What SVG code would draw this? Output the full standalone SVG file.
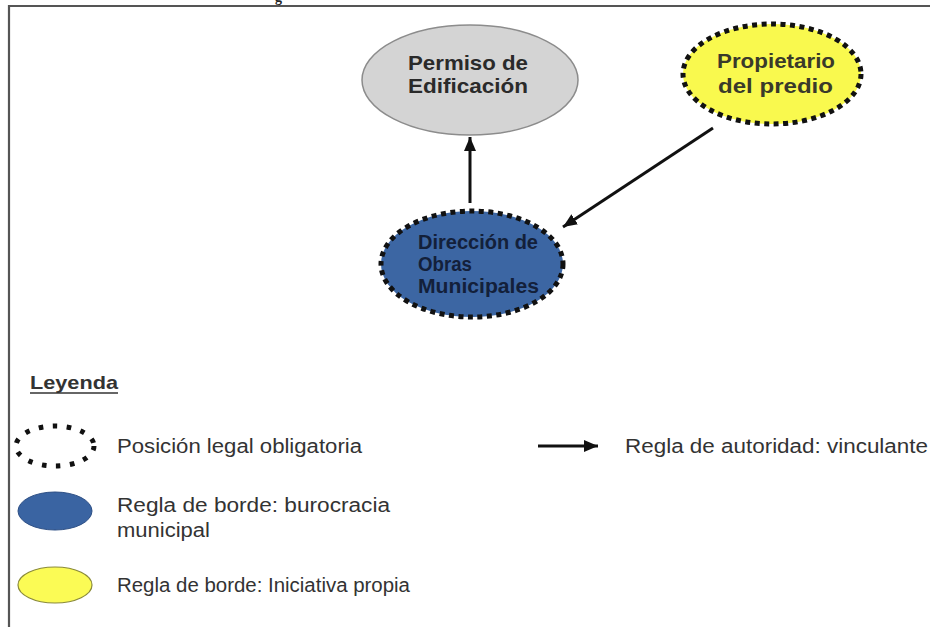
<svg xmlns="http://www.w3.org/2000/svg" width="930" height="627" viewBox="0 0 930 627">
  <style>
    .frame { stroke: #555555; stroke-width: 2.2; fill: none; }
    .node-text { font-family: "Liberation Sans", Arial, sans-serif; font-weight: bold; font-size: 21px; }
    .legend-text { font-family: "Liberation Sans", Arial, sans-serif; font-size: 20px; fill: #333333; }
    .dotted { stroke: #111111; stroke-width: 5; stroke-dasharray: 5 4.5; }
    .edge { stroke: #111111; stroke-width: 3; fill: none; }
  </style>
  <defs>
    <marker id="arrow" markerUnits="userSpaceOnUse" markerWidth="16" markerHeight="14" refX="14" refY="6" orient="auto">
      <path d="M0,0 L14,6 L0,12 z" fill="#111111"/>
    </marker>
  </defs>
  <rect x="0" y="0" width="930" height="627" fill="#ffffff"/>
  <text x="275" y="1.5" font-family="Liberation Serif, serif" font-weight="bold" font-size="14" fill="#222222">g</text>
  <path class="frame" d="M9,627 L9,6 L930,6"/>

  <g id="connectors">
    <line class="edge" x1="470" y1="203" x2="470" y2="137" marker-end="url(#arrow)"/>
    <line class="edge" x1="713" y1="128" x2="563" y2="227" marker-end="url(#arrow)"/>
  </g>

  <g id="permiso">
    <ellipse cx="470" cy="80" rx="108" ry="55" fill="#d4d4d4" stroke="#8c8c8c" stroke-width="1.5"/>
    <text class="node-text" fill="#2a2a2a" x="408" y="70" textLength="120" lengthAdjust="spacingAndGlyphs">Permiso de</text>
    <text class="node-text" fill="#2a2a2a" x="408" y="93" textLength="120" lengthAdjust="spacingAndGlyphs">Edificación</text>
  </g>

  <g id="propietario">
    <ellipse class="dotted" cx="772" cy="74" rx="89" ry="50" fill="#f9f94e"/>
    <text class="node-text" fill="#3a3a2a" x="717" y="68" textLength="118" lengthAdjust="spacingAndGlyphs">Propietario</text>
    <text class="node-text" fill="#3a3a2a" x="718" y="93" textLength="115" lengthAdjust="spacingAndGlyphs">del predio</text>
  </g>

  <g id="direccion">
    <ellipse class="dotted" cx="472" cy="264" rx="91" ry="53" fill="#3c66a3"/>
    <text class="node-text" style="font-size:19.5px" fill="#13203a" x="418" y="249" textLength="120" lengthAdjust="spacingAndGlyphs">Dirección de</text>
    <text class="node-text" style="font-size:19.5px" fill="#13203a" x="418" y="271" textLength="54" lengthAdjust="spacingAndGlyphs">Obras</text>
    <text class="node-text" style="font-size:19.5px" fill="#13203a" x="418" y="293" textLength="121" lengthAdjust="spacingAndGlyphs">Municipales</text>
  </g>

  <g id="legend">
    <text x="30" y="389" font-family="Liberation Sans, Arial, sans-serif" font-weight="bold" font-size="19" fill="#333333" textLength="88" lengthAdjust="spacingAndGlyphs">Leyenda</text>
    <line x1="30" y1="393" x2="118" y2="393" stroke="#333333" stroke-width="1.5"/>

    <ellipse cx="55" cy="446" rx="39" ry="20" fill="none" stroke="#111111" stroke-width="5" stroke-dasharray="4.5 9.5"/>
    <text class="legend-text" x="117" y="453" textLength="245" lengthAdjust="spacingAndGlyphs">Posición legal  obligatoria</text>

    <line class="edge" x1="538" y1="446" x2="598" y2="446" marker-end="url(#arrow)"/>
    <text class="legend-text" x="625" y="453" textLength="303" lengthAdjust="spacingAndGlyphs">Regla de autoridad:  vinculante</text>

    <ellipse cx="55" cy="511" rx="37" ry="19" fill="#3a64a2" stroke="#2d4f85" stroke-width="1"/>
    <text class="legend-text" x="117" y="512" textLength="273" lengthAdjust="spacingAndGlyphs">Regla de borde: burocracia</text>
    <text class="legend-text" x="117" y="537" textLength="93" lengthAdjust="spacingAndGlyphs">municipal</text>

    <ellipse cx="55" cy="585" rx="37" ry="18" fill="#fbfb55" stroke="#8a8a3a" stroke-width="1.2"/>
    <text class="legend-text" x="117" y="592" textLength="293" lengthAdjust="spacingAndGlyphs">Regla de borde: Iniciativa propia</text>
  </g>
</svg>
